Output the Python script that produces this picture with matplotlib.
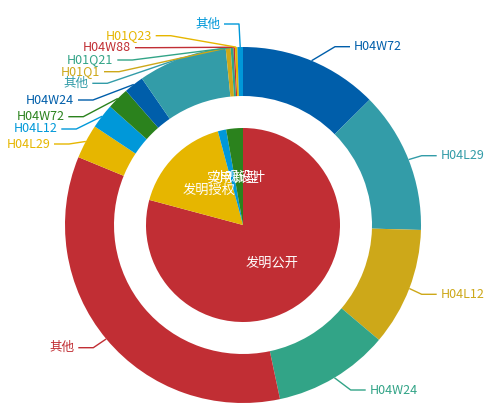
import numpy as np
import matplotlib
matplotlib.use('Agg')
import matplotlib.pyplot as plt

plt.rcParams['font.family'] = ['Noto Sans CJK SC', 'DejaVu Sans']

# inner pie: patent type
types = ['发明公开', '发明授权', '实用新型', '外观设计']
type_counts = [570, 120, 10, 20]

# outer ring: IPC groups
ipc_labels = ['H04W72', 'H04L29', 'H04L12', 'H04W24', '其他',
              'H04L29', 'H04L12', 'H04W72', 'H04W24', '其他',
              'H01Q1', 'H01Q21', 'H04W88', 'H01Q23', '其他']
ipc_counts = [90.6, 92.6, 77.2, 75.6, 248.8,
              22.4, 16.2, 14.4, 13.0, 58.0,
              3.2, 1.8, 1.0, 1.6, 3.6]

palette = ['#c12e34', '#e6b600', '#0098d9', '#2b821d',
           '#005eaa', '#339ca8', '#cda819', '#32a487']

W, H = 498, 419
cx, cy = 243, H - 225
R_out, R_in, R_pie = 178, 129, 97

# label layout (bend point of leader line, pixel coords from top-left) and side
label_layout = [(335, 46.7, 'r'), (421.7, 155.7, 'r'), (421.7, 294.3, 'r'),
                (350.7, 390, 'r'), (93.3, 347.7, 'l'), (69, 144, 'l'),
                (76.3, 129, 'l'), (83.3, 116.7, 'l'), (93, 100, 'l'),
                (107.3, 83.3, 'l'), (119, 71.7, 'l'), (132.3, 60, 'l'),
                (150, 47.7, 'l'), (170.7, 35.7, 'l'), (239, 24, 'l')]

fig = plt.figure(figsize=(W / 100, H / 100), dpi=100)
ax = fig.add_axes([0, 0, 1, 1])

inner_colors = [palette[i % 8] for i in range(len(types))]
outer_colors = [palette[(i + len(types)) % 8] for i in range(len(ipc_labels))]

ax.pie(type_counts, radius=R_pie, center=(cx, cy), startangle=90,
       counterclock=False, colors=inner_colors,
       wedgeprops=dict(linewidth=0))
ax.pie(ipc_counts, radius=R_out, center=(cx, cy), startangle=90,
       counterclock=False, colors=outer_colors,
       wedgeprops=dict(width=R_out - R_in, linewidth=0))


def mid_angles(vals):
    vals = np.asarray(vals, dtype=float)
    cum = np.cumsum(vals) / vals.sum() * 360
    return cum - vals / vals.sum() * 180


# inner labels
for name, th in zip(types, mid_angles(type_counts)):
    t = np.radians(th)
    r = R_pie / 2
    ax.text(cx + r * np.sin(t), cy + r * np.cos(t), name, color='white',
            fontsize=9.5, ha='center', va='center')

# outer labels with leader lines
for name, th, col, (bx, by, side) in zip(ipc_labels, mid_angles(ipc_counts),
                                         outer_colors, label_layout):
    t = np.radians(th)
    sx, sy = cx + R_out * np.sin(t), cy + R_out * np.cos(t)
    by = H - by
    ex = bx + 15 if side == 'r' else bx - 15
    ax.plot([sx, bx, ex], [sy, by, by], color=col, lw=1, solid_capstyle='butt')
    tx = ex + 4 if side == 'r' else ex - 4
    ax.text(tx, by, name, color=col, fontsize=9,
            ha='left' if side == 'r' else 'right', va='center')

ax.set_xlim(0, W)
ax.set_ylim(0, H)
ax.set_aspect('equal')
ax.axis('off')

fig.savefig('out.png', dpi=100, facecolor='white')
